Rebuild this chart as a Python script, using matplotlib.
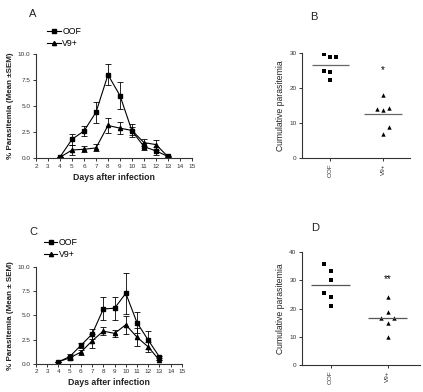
import numpy as np
import matplotlib.pyplot as plt

plt.rcParams['font.family'] = ['Liberation Sans', 'DejaVu Sans']

days = [4, 5, 6, 7, 8, 9, 10, 11, 12, 13]

# panel A: time course
a_oof = [0.1, 1.8, 2.6, 4.4, 8.0, 6.0, 2.6, 1.1, 0.68, 0.15]
a_oof_err = [0.0, 0.52, 0.48, 1.03, 1.0, 1.27, 0.4, 0.3, 0.35, 0.0]
a_v9 = [0.07, 0.77, 0.84, 0.97, 3.13, 2.87, 2.65, 1.48, 1.29, 0.13]
a_v9_err = [0.0, 0.47, 0.27, 0.33, 0.74, 0.6, 0.65, 0.33, 0.48, 0.0]

# panel C: time course
c_oof = [0.2, 0.73, 1.9, 3.07, 5.68, 5.75, 7.3, 4.25, 2.44, 0.7]
c_oof_err = [0.0, 0.27, 0.25, 0.55, 1.2, 1.2, 2.15, 1.1, 0.9, 0.15]
c_v9 = [0.2, 0.6, 1.2, 2.37, 3.38, 3.14, 4.04, 2.75, 1.74, 0.35]
c_v9_err = [0.0, 0.2, 0.25, 0.7, 0.4, 0.35, 0.95, 0.95, 0.5, 0.0]

groups = ['OOF', 'V9+']

# panel B: cumulative parasitemia (offset = horizontal jitter slot)
b_oof = [29.8, 28.8, 28.9, 24.8, 24.7, 22.2]
b_oof_off = [-1, 0, 1, -1, 0, 0]
b_v9 = [17.9, 14.0, 13.6, 14.4, 8.9, 7.0]
b_v9_off = [0, -1, 0, 1, 1, 0]

# panel D
d_oof = [35.9, 33.5, 30.2, 25.6, 24.3, 21.1]
d_oof_off = [-1, 0, 0, -1, 0, 0]
d_v9 = [24.0, 18.9, 16.6, 16.6, 14.8, 9.8]
d_v9_off = [0, 0, -1, 1, 0, 0]

fig = plt.figure(figsize=(4.23, 3.92), dpi=100)

tick_fs = 4.6
txtc = '#222222'


def style(ax):
    for s in ['top', 'right']:
        ax.spines[s].set_visible(False)
    for s in ['left', 'bottom']:
        ax.spines[s].set_linewidth(0.8)
        ax.spines[s].set_color('#333333')
    ax.tick_params(direction='out', length=2.5, width=0.7, labelsize=tick_fs,
                   colors='#333333', pad=1.5)


def course(rect, oof, oof_err, v9, v9_err, ylab, leg_anchor):
    ax = fig.add_axes(rect)
    ax.errorbar(days, oof, yerr=oof_err, color='black', marker='s', ms=3.4,
                lw=0.8, elinewidth=0.6, capsize=2, capthick=0.6, label='OOF')
    ax.errorbar(days, v9, yerr=v9_err, color='black', marker='^', ms=3.0,
                lw=0.8, elinewidth=0.6, capsize=2, capthick=0.6, label='V9+')
    ax.set_xlim(2, 15)
    ax.set_ylim(0, 10)
    ax.set_xticks(range(2, 16))
    ax.set_yticks([0, 2.5, 5, 7.5, 10])
    ax.set_yticklabels(['0.0', '2.5', '5.0', '7.5', '10.0'])
    style(ax)
    ax.set_xlabel('Days after infection', fontsize=6.3, fontweight='bold',
                  labelpad=3, color=txtc)
    ax.set_ylabel(ylab, fontsize=5.8, fontweight='bold', labelpad=3, color=txtc)
    h, l = ax.get_legend_handles_labels()
    h = [x[0] for x in h]
    fig.legend(h, l, loc='upper left', bbox_to_anchor=leg_anchor, frameon=False,
               fontsize=6.3, handlelength=1.5, handletextpad=0.2,
               labelspacing=0.3, borderaxespad=0, borderpad=0)
    return ax


def scatter(rect, oof, oof_off, v9, v9_off, ylim, yticks, star, star_y, xlim, dx, linec):
    ax = fig.add_axes(rect)
    ax.scatter(np.array(oof_off) * dx, oof, marker='s', s=9, color='black', lw=0)
    ax.scatter(1 + np.array(v9_off) * dx, v9, marker='^', s=10, color='black', lw=0)
    ax.hlines(np.mean(oof), -0.35, 0.35, color=linec, lw=0.9)
    ax.hlines(np.mean(v9), 0.65, 1.35, color=linec, lw=0.9)
    ax.text(1, star_y, star, ha='center', va='center', fontsize=7, color='black')
    ax.set_xlim(*xlim)
    ax.set_ylim(*ylim)
    ax.set_yticks(yticks)
    ax.set_xticks([0, 1])
    ax.set_xticklabels(groups, rotation=90)
    style(ax)
    ax.set_ylabel('Cumulative parasitemia', fontsize=6.2, labelpad=3, color=txtc)
    return ax


course([0.0851, 0.5969, 0.3688, 0.2653], a_oof, a_oof_err, a_v9, a_v9_err,
       '% Parasitemia (Mean \u00b1SEM)', (0.112, 0.93))
course([0.0851, 0.0722, 0.345, 0.246], c_oof, c_oof_err, c_v9, c_v9_err,
       '% Parasitemia (Mean \u00b1 SEM)', (0.104, 0.392))

scatter([0.714, 0.5969, 0.2553, 0.268], b_oof, b_oof_off, b_v9, b_v9_off,
        (0, 30), [0, 10, 20, 30], '*', 25.0, (-0.53, 1.51), 0.12, '#666666')
scatter([0.714, 0.0689, 0.279, 0.2875], d_oof, d_oof_off, d_v9, d_v9_off,
        (0, 40), [0, 10, 20, 30, 40], '**', 30.6, (-0.5, 1.57), 0.12, '#555555')

for lab, x, y in [('A', 0.078, 0.978), ('B', 0.742, 0.97), ('C', 0.078, 0.42), ('D', 0.744, 0.43)]:
    fig.text(x, y, lab, fontsize=8, ha='center', va='top', color=txtc)

fig.savefig('out.png', dpi=100)
